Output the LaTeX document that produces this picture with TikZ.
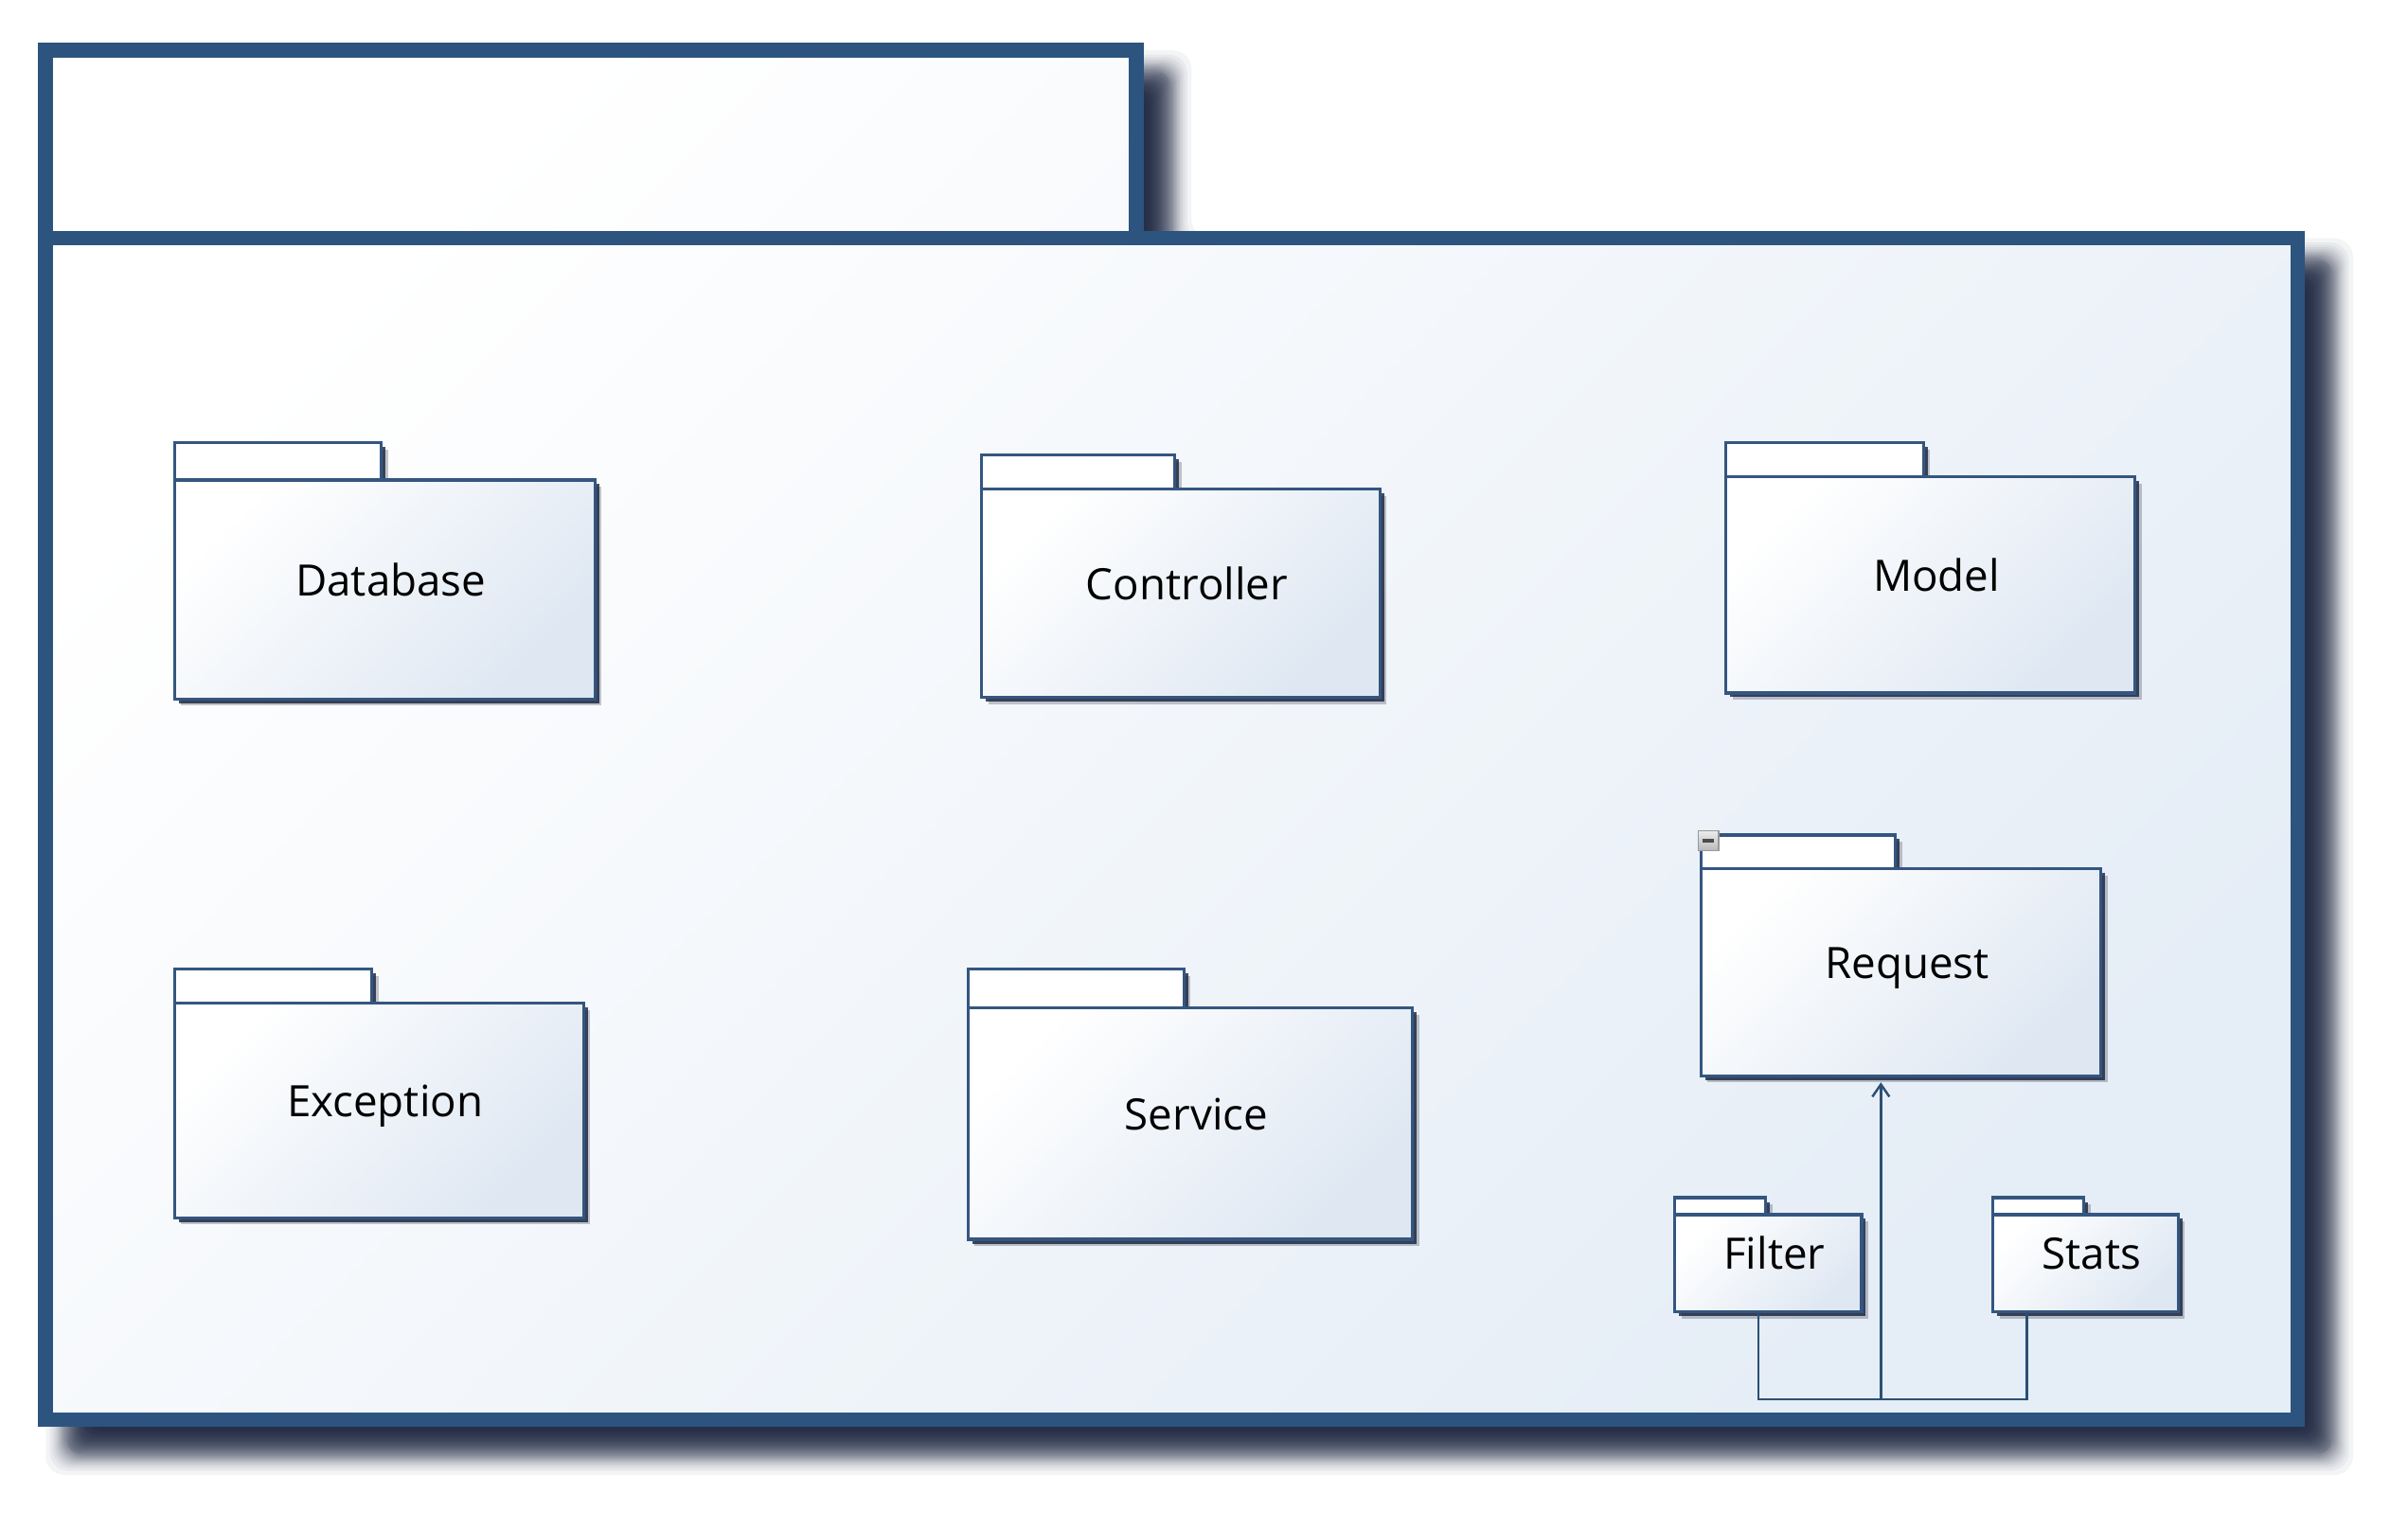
\documentclass[tikz,border=0pt]{standalone}
\usepackage{fontspec}
\setmainfont{Open Sans}
\usetikzlibrary{shadows,calc,arrows.meta}
\definecolor{framecol}{RGB}{44,84,126}
\definecolor{framefill}{RGB}{229,237,246}
\definecolor{pkgline}{RGB}{52,86,128}
\definecolor{pkgfill}{RGB}{222,231,242}
\definecolor{shadecol}{RGB}{22,32,58}
\definecolor{depcol}{RGB}{44,80,115}
\newlength{\du}
\setlength{\du}{0.163013mm}
\newcommand{\frameat}[1]{({29.5-(#1)},{32.5-(#1)}) -- ({736+(#1)},{32.5-(#1)}) -- ({736+(#1)},{154.3-(#1)}) -- ({1488.5+(#1)},{154.3-(#1)}) -- ({1488.5+(#1)},{919.8+(#1)}) -- ({29.5-(#1)},{919.8+(#1)}) -- cycle}
\newcommand{\pkg}[8]{%
  \draw[pkgtab] (#2,#3) rectangle ++(#6,-#7);
  \node[pkgbody, minimum width=#4*\du, minimum height=#5*\du] (#1) at (#2+#4/2,#3+#5/2) {};
  \node[pkgtext] (#1-label) at ($(#1.center)+(4,-6)$) {#8};
}

\begin{document}
\begin{tikzpicture}[x=0.163013mm, y=-0.163013mm,
    pkgshadow/.style={drop shadow={shadow xshift=0.7mm, shadow yshift=-0.7mm, fill=shadecol, opacity=0.25},
                      drop shadow={shadow xshift=0.45mm, shadow yshift=-0.45mm, fill=shadecol, opacity=0.8}},
    pkgtab/.style={draw=pkgline, line width=0.9pt, fill=white, pkgshadow},
    pkgbody/.style={draw=pkgline, line width=0.9pt, top color=white, bottom color=pkgfill, shading angle=45,
                    inner sep=0pt, outer sep=0pt, pkgshadow},
    pkgtext/.style={font=\fontsize{13pt}{15pt}\selectfont, text height=9.3pt, text depth=0pt, inner sep=0pt},
    minusbox/.style={draw=gray!80, top color=gray!15, bottom color=gray!55, minimum size=13*\du, inner sep=0pt,
                     path picture={\draw[line width=1pt, black!70] ([xshift=1.3pt]path picture bounding box.west) -- ([xshift=-1.3pt]path picture bounding box.east);}},
    dep/.style={draw=depcol, line width=0.7pt, >={Straight Barb[length=1.3mm, width=1.8mm]}}]
  \useasboundingbox (0,0) rectangle (1560,990.7);
  \foreach \o in {4.9,5.4,5.9,6.4,6.9,7.5,8.1,8.7,9.4,10.2,11.1,12.2,13.5,15.2,17.9}
    \fill[shadecol, opacity=0.05, rounded corners=2mm, shift={(18,18)}] \frameat{\o};
  \foreach \o in {3.7,2.5,1.3,0,-1.1,-2.1,-3.1,-4.1,-5.3,-6.5,-7.4,-8.1,-9.3,-10.5,-11.7,-13.6,-15.6,-18.1,-23.1}
    \fill[shadecol, opacity=0.12, rounded corners=1.2mm, shift={(18,18)}] \frameat{\o};
  \draw[framecol, line width=4.5pt, top color=white, bottom color=framefill, shading angle=45] \frameat{0};
  \draw[framecol, line width=4.5pt] (29.5,154.3) -- (736,154.3);

  \pkg{database}{113}{311}{272.5}{142}{134}{24}{Database}
  \pkg{controller}{636}{317}{258}{135}{125}{22}{Controller}
  \pkg{model}{1118}{309}{265}{140}{128}{22}{Model}
  \pkg{exception}{113}{650}{265}{139}{128}{22}{Exception}
  \pkg{service}{627}{653}{288}{150}{140}{25}{Service}
  \pkg{request}{1102}{563}{259}{134}{126}{22}{Request}
  \pkg{filter}{1085}{787}{121}{63}{59}{11}{Filter}
  \pkg{stats}{1291}{787}{120}{63}{59}{11}{Stats}
  \node[minusbox] (collapse) at (1106.8,544.8) {};

  \coordinate (fork) at (1218.5,906.5);
  \draw[dep] ($(filter.south west)+(54,0)$) |- (fork) -| ($(stats.south west)+(22,0)$);
  \draw[dep,->,shorten >=0.7mm] (fork) -- (fork |- request.south);
\end{tikzpicture}
\end{document}
